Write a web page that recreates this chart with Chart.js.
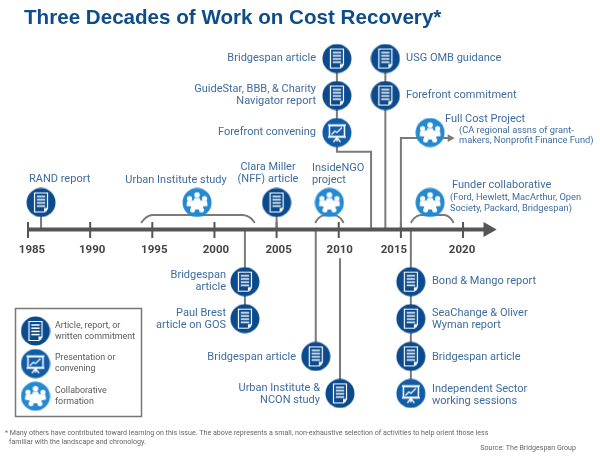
<!DOCTYPE html>
<html>
<head>
<meta charset="utf-8">
<style>
  html, body { margin: 0; padding: 0; background: #fff; }
  canvas { display: block; }
</style>
</head>
<body>
<canvas id="timelineChart" width="600" height="459"></canvas>
<script src="https://cdn.jsdelivr.net/npm/chart.js@4"></script>
<script>
const tickYears = [1985, 1990, 1995, 2000, 2005, 2010, 2015, 2020];
// the printed year labels do not sit exactly under their ticks
const tickLabelYears = [1985.32, 1990.16, 1995.16, 2000.12, 2005.16, 2010.08, 2014.44, 2019.92];

// Article, report, or written commitment
const docLabels = ['RAND report', 'Clara Miller\n(NFF) article', 'Bridgespan article', 'GuideStar, BBB, & Charity\nNavigator report', 'USG OMB guidance', 'Forefront commitment', 'Bridgespan\narticle', 'Paul Brest\narticle on GOS', 'Bridgespan article', 'Urban Institute &\nNCON study', 'Bond & Mango report', 'SeaChange & Oliver\nWyman report', 'Bridgespan article'];
const docYears = [1986.05, 2005, 2009.85, 2009.85, 2013.75, 2013.75, 2002.45, 2002.45, 2008.15, 2010.1, 2015.8, 2015.8, 2015.8];
const docLanes = [0.73, 0.73, 4.62, 3.62, 4.62, 3.62, -1.41, -2.41, -3.43, -4.43, -1.41, -2.41, -3.43];

// Presentation or convening
const showLabels = ['Forefront convening', 'Independent Sector\nworking sessions'];
const showYears = [2009.85, 2015.8];
const showLanes = [2.62, -4.43];

// Collaborative formation
const teamLabels = ['Urban Institute study', 'InsideNGO\nproject', 'Full Cost Project', 'Funder collaborative'];
const teamYears = [1998.6, 2009.25, 2017.35, 2017.35];
const teamLanes = [0.73, 0.73, 2.62, 0.73];

const teamNotes = ['(CA regional assns of grant-\nmakers, Nonprofit Finance Fund)', '(Ford, Hewlett, MacArthur, Open\nSociety, Packard, Bridgespan)'];

const legendLabels = ['Article, report, or\nwritten commitment', 'Presentation or\nconvening', 'Collaborative\nformation'];

const titleText = 'Three Decades of Work on Cost Recovery*';
const footnoteLines = ['* Many others have contributed toward learning on this issue. The above represents a small, non-exhaustive selection of activities to help orient those less', 'familiar with the landscape and chronology.'];
const sourceText = 'Source: The Bridgespan Group';

// Stems and elbows that tie the icons to the time line: [year, lane] pairs
const stemPaths = [
  [[1986.05, 0.73], [1986.05, 0]],
  [[2005, 0.73], [2005, 0]],
  [[2002.45, 0], [2002.45, -2.41]],
  [[2008.15, 0], [2008.15, -3.43]],
  [[2010.1, -0.78], [2010.1, -4.43]],
  [[2013.75, 4.62], [2013.75, 0]],
  [[2009.85, 4.62], [2009.85, 2.1], [2012.6, 2.1], [2012.6, 0]],
  [[2015.8, 0], [2015.8, -4.43]]
];
const fullCostArrow = [[2015, 0], [2015, 2.47], [2018.95, 2.47]];
const bracketPaths = [
  [[1994.1, 0.18], [1994.4, 0.3], [1995, 0.39], [2002.3, 0.39], [2002.95, 0.3], [2003.25, 0.18]],
  [[2008.1, 0.18], [2008.35, 0.3], [2008.9, 0.39], [2009.6, 0.39], [2010.15, 0.3], [2010.4, 0.18]],
  [[2015.8, 0.18], [2016.05, 0.3], [2016.6, 0.39], [2018.5, 0.39], [2019, 0.3], [2019.25, 0.18]]
];

const TEXT_BLUE = '#3f6c9e';
const GREY_TEXT = '#5a5a5a';
const LABEL_FONT = '11px Roboto';

// where each label sits: [text-align, x of anchor, y of first line]
const docLabelSpots = [['left', 29, 179], ['center', 268, 167], ['right', 316, 58], ['right', 316, 89], ['left', 406, 58], ['left', 406, 95], ['right', 226, 275], ['right', 226, 313], ['right', 296, 357], ['right', 320, 388], ['left', 432, 281], ['left', 432, 313], ['left', 432, 357]];
const showLabelSpots = [['right', 316, 132], ['left', 432, 389]];
const teamLabelSpots = [['center', 176, 180], ['left', 312, 168], ['left', 445, 119], ['left', 452, 185]];
const noteSpots = [['left', 459, 130.5], ['left', 450, 198]];
const legendSpots = [['left', 55, 326], ['left', 55, 358], ['left', 55, 391]];

function makeIcon(color, drawInner) {
  const icon = document.createElement('canvas');
  icon.width = 30;
  icon.height = 30;
  const c = icon.getContext('2d');
  c.fillStyle = color;
  c.beginPath();
  c.arc(15, 15, 14.5, 0, Math.PI * 2);
  c.fill();
  c.strokeStyle = '#fff';
  c.fillStyle = '#fff';
  drawInner(c);
  return icon;
}

const docIcon = makeIcon('#0b4a8c', function (c) {
  c.lineWidth = 1.2;
  c.beginPath();
  c.moveTo(8.5, 5.5);
  c.lineTo(21.5, 5.5);
  c.lineTo(21.5, 21);
  c.lineTo(18.5, 24.5);
  c.lineTo(8.5, 24.5);
  c.closePath();
  c.stroke();
  c.lineWidth = 1.5;
  [9, 12.2, 15.4, 18.6].forEach(function (y) {
    c.beginPath();
    c.moveTo(10.8, y);
    c.lineTo(19.2, y);
    c.stroke();
  });
  c.fillRect(18, 20.5, 3, 3);
});

const showIcon = makeIcon('#125ca6', function (c) {
  c.lineWidth = 1.5;
  c.strokeRect(7.5, 8, 15, 11);
  c.beginPath();
  c.moveTo(6, 7.5);
  c.lineTo(24, 7.5);
  c.moveTo(6, 19.5);
  c.lineTo(24, 19.5);
  c.stroke();
  c.lineWidth = 1.3;
  c.beginPath();
  c.moveTo(9.5, 17);
  c.lineTo(13, 13.5);
  c.lineTo(15, 15);
  c.lineTo(20, 10);
  c.stroke();
  c.beginPath();
  c.moveTo(15, 19.5);
  c.lineTo(15, 24);
  c.moveTo(15, 20);
  c.lineTo(11.5, 24.5);
  c.moveTo(15, 20);
  c.lineTo(18.5, 24.5);
  c.stroke();
});

const teamIcon = makeIcon('#2389d0', function (c) {
  [[15, 7.5, 2.8], [7.5, 11, 2.6], [22.5, 11, 2.6], [10.5, 22.5, 2.5], [19.5, 22.5, 2.5]].forEach(function (h) {
    c.beginPath();
    c.arc(h[0], h[1], h[2], 0, Math.PI * 2);
    c.fill();
  });
  c.beginPath();
  c.moveTo(12.5, 10.5);
  c.lineTo(17.5, 10.5);
  c.lineTo(18.5, 13);
  c.lineTo(25, 13.5);
  c.lineTo(25.5, 18.5);
  c.lineTo(21, 19);
  c.lineTo(21, 22);
  c.lineTo(9, 22);
  c.lineTo(9, 19);
  c.lineTo(4.5, 18.5);
  c.lineTo(5, 13.5);
  c.lineTo(11.5, 13);
  c.closePath();
  c.fill();
});

function toPoints(years, lanes) {
  return years.map(function (year, i) {
    return { x: year, y: lanes[i] };
  });
}

function pathPoints(path) {
  return path.map(function (p) {
    return { x: p[0], y: p[1] };
  });
}

function lineSet(path, color, width, extra) {
  return Object.assign({
    type: 'line',
    data: pathPoints(path),
    borderColor: color,
    backgroundColor: color,
    borderWidth: width,
    pointRadius: 0,
    borderCapStyle: 'butt',
    order: 5
  }, extra);
}

function iconSet(label, years, lanes, icon) {
  return {
    label: label,
    data: toPoints(years, lanes),
    pointStyle: icon,
    pointRadius: 15,
    order: 1
  };
}

const datasets = [
  iconSet('Article, report, or written commitment', docYears, docLanes, docIcon),
  iconSet('Presentation or convening', showYears, showLanes, showIcon),
  iconSet('Collaborative formation', teamYears, teamLanes, teamIcon)
];
stemPaths.forEach(function (path) {
  datasets.push(lineSet(path, '#7a7a7a', 2));
});
bracketPaths.forEach(function (path) {
  datasets.push(lineSet(path, '#7a7a7a', 2, { cubicInterpolationMode: 'monotone' }));
});
datasets.push(lineSet(fullCostArrow, '#7a7a7a', 2, {
  pointStyle: 'triangle',
  pointRadius: [0, 0, 2.6],
  pointRotation: 90
}));
tickYears.forEach(function (year) {
  datasets.push(lineSet([[year, 0.2], [year, -0.23]], '#555', 2));
});
datasets.push(lineSet([[1985, 0], [2022, 0]], '#555', 4, {
  pointStyle: 'triangle',
  pointRadius: [0, 4.8],
  pointRotation: 90,
  order: 4
}));

function drawLabel(ctx, text, spot, font, color, lineGap) {
  ctx.font = font;
  ctx.fillStyle = color;
  ctx.textAlign = spot[0];
  ctx.textBaseline = 'middle';
  text.split('\n').forEach(function (line, i) {
    ctx.fillText(line, spot[1], spot[2] + i * lineGap);
  });
}

// Title, icon captions, legend box and footnotes
const textPlugin = {
  id: 'timelineText',
  afterDatasetsDraw: function (chart) {
    const ctx = chart.ctx;
    ctx.save();

    ctx.font = 'bold 20.6px "Liberation Sans"';
    ctx.fillStyle = '#0f4c8a';
    ctx.textAlign = 'left';
    ctx.textBaseline = 'middle';
    ctx.fillText(titleText, 24, 18);

    docLabels.forEach(function (t, i) { drawLabel(ctx, t, docLabelSpots[i], LABEL_FONT, TEXT_BLUE, 12); });
    showLabels.forEach(function (t, i) { drawLabel(ctx, t, showLabelSpots[i], LABEL_FONT, TEXT_BLUE, 12); });
    teamLabels.forEach(function (t, i) { drawLabel(ctx, t, teamLabelSpots[i], LABEL_FONT, TEXT_BLUE, 12); });
    teamNotes.forEach(function (t, i) { drawLabel(ctx, t, noteSpots[i], '9.3px Roboto', TEXT_BLUE, 10.3); });

    ctx.strokeStyle = '#777';
    ctx.lineWidth = 1.5;
    ctx.strokeRect(15.5, 308.5, 126, 108);
    [docIcon, showIcon, teamIcon].forEach(function (icon, i) {
      ctx.drawImage(icon, 20.5, 316 + i * 32.6);
      drawLabel(ctx, legendLabels[i], legendSpots[i], '8.9px Roboto', GREY_TEXT, 11);
    });

    ctx.font = '7.1px Roboto';
    ctx.fillStyle = '#666';
    ctx.textAlign = 'left';
    ctx.fillText(footnoteLines[0], 5, 433);
    ctx.fillText(footnoteLines[1], 9, 442);
    ctx.textAlign = 'right';
    ctx.fillText(sourceText, 576, 448);

    ctx.restore();
  }
};

const lanePx = 37;
const yearPx = 12.43;

new Chart(document.getElementById('timelineChart').getContext('2d'), {
  type: 'scatter',
  data: { datasets: datasets },
  options: {
    responsive: false,
    animation: false,
    layout: { padding: 0, autoPadding: false },
    plugins: {
      legend: { display: false },
      tooltip: { enabled: false }
    },
    scales: {
      x: {
        type: 'linear',
        min: 1985 - 28 / yearPx,
        max: 1985 + 572 / yearPx,
        position: { y: 0 },
        grid: { display: false, drawTicks: false },
        border: { display: false },
        afterFit: function (scale) {
          scale.paddingLeft = 0;
          scale.paddingRight = 0;
        },
        afterBuildTicks: function (scale) {
          scale.ticks = tickLabelYears.map(function (year) {
            return { value: year };
          });
        },
        ticks: {
          autoSkip: false,
          maxRotation: 0,
          padding: 14,
          color: '#444',
          font: { family: 'Roboto', size: 11.5, weight: 'bold' },
          callback: function (value, index) {
            return String(tickYears[index]);
          }
        }
      },
      y: {
        type: 'linear',
        display: false,
        min: -229.5 / lanePx,
        max: 229.5 / lanePx
      }
    }
  },
  plugins: [textPlugin]
});
</script>
</body>
</html>
